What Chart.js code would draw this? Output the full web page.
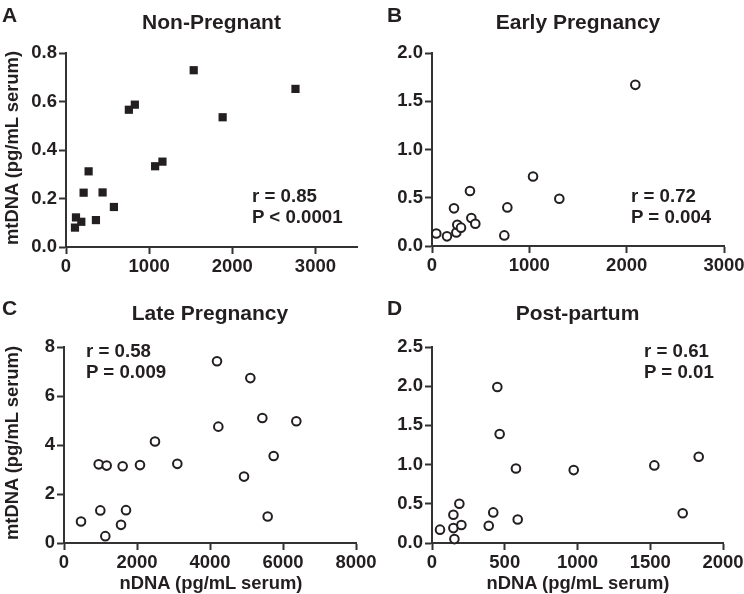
<!DOCTYPE html>
<html><head><meta charset="utf-8">
<script src="https://cdn.jsdelivr.net/npm/chart.js@4.4.1/dist/chart.umd.min.js"></script>
<style>
html,body{margin:0;padding:0;background:#fff;}
#wrap{position:relative;width:744px;height:594px;overflow:hidden;font-family:"Liberation Sans",Arial,Helvetica,sans-serif;font-weight:bold;color:#231f20;}
.cv{position:absolute;}
.t{position:absolute;white-space:nowrap;}
</style></head><body><div id="wrap">
<canvas id="cA" class="cv" width="372" height="297" style="left:0;top:0"></canvas>
<canvas id="cB" class="cv" width="372" height="297" style="left:372px;top:0"></canvas>
<canvas id="cC" class="cv" width="400" height="297" style="left:0;top:297px"></canvas>
<canvas id="cD" class="cv" width="372" height="297" style="left:372px;top:297px"></canvas>
</div>
<script>
// ---- data ----
const nonPregnantX = [108, 120, 184, 212, 272, 360, 440, 576, 756, 828, 1072, 1160, 1536, 1884, 2760];
const nonPregnantY = [0.080, 0.122, 0.104, 0.224, 0.312, 0.111, 0.225, 0.165, 0.566, 0.587, 0.333, 0.352, 0.729, 0.535, 0.652];

const earlyX = [44, 154, 226, 250, 260, 298, 390, 404, 445, 743, 774, 1038, 1308, 2089];
const earlyY = [0.13, 0.10, 0.39, 0.14, 0.22, 0.19, 0.57, 0.29, 0.23, 0.11, 0.40, 0.72, 0.49, 1.67];

const lateX = [466, 950, 995, 1132, 1169, 1562, 1607, 1699, 2082, 2493, 3105, 4192, 4228, 4932, 5105, 5434, 5580, 5744, 6365];
const lateY = [0.88, 3.21, 1.33, 0.28, 3.16, 0.74, 3.13, 1.34, 3.18, 4.14, 3.23, 7.42, 4.75, 2.71, 6.73, 5.10, 1.08, 3.55, 4.97];

const postX = [55, 147, 147, 154, 188, 202, 390, 421, 449, 465, 577, 589, 974, 1528, 1723, 1833];
const postY = [0.17, 0.36, 0.19, 0.05, 0.50, 0.23, 0.22, 0.39, 1.99, 1.39, 0.95, 0.30, 0.93, 0.99, 0.38, 1.10];

// ---- ticks ----
const ticksAx = [0, 1000, 2000, 3000];
const labelsAx = ['0', '1000', '2000', '3000'];
const ticksAy = [0, 0.2, 0.4, 0.6, 0.8];
const labelsAy = ['0.0', '0.2', '0.4', '0.6', '0.8'];

const ticksBx = [0, 1000, 2000, 3000];
const labelsBx = ['0', '1000', '2000', '3000'];
const ticksBy = [0, 0.5, 1.0, 1.5, 2.0];
const labelsBy = ['0.0', '0.5', '1.0', '1.5', '2.0'];

const ticksCx = [0, 2000, 4000, 6000, 8000];
const labelsCx = ['0', '2000', '4000', '6000', '8000'];
const ticksCy = [0, 2, 4, 6, 8];
const labelsCy = ['0', '2', '4', '6', '8'];

const ticksDx = [0, 500, 1000, 1500, 2000];
const labelsDx = ['0', '500', '1000', '1500', '2000'];
const ticksDy = [0, 0.5, 1.0, 1.5, 2.0, 2.5];
const labelsDy = ['0.0', '0.5', '1.0', '1.5', '2.0', '2.5'];

// ---- text ----
const panelLetters = ['A', 'B', 'C', 'D'];
const panelTitles = ['Non-Pregnant', 'Early Pregnancy', 'Late Pregnancy', 'Post-partum'];
const statR = ['r = 0.85', 'r = 0.72', 'r = 0.58', 'r = 0.61'];
const statP = ['P < 0.0001', 'P = 0.004', 'P = 0.009', 'P = 0.01'];
const yTitle = 'mtDNA (pg/mL serum)';
const xTitle = 'nDNA (pg/mL serum)';

const FONT = '"Liberation Sans", Arial, Helvetica, sans-serif';
const INK = '#231f20';
const AX = '#333333';
const TICK_SIZE = 18.5;

function panel(id, xs, ys, style, tx, lx, xMax, ty, ly, yMax, box) {
  const isRect = style === 'rect';
  const pts = xs.map((x, i) => ({x: x, y: ys[i]}));
  new Chart(document.getElementById(id), {
    type: 'scatter',
    data: {datasets: [{
      data: pts,
      pointStyle: style,
      pointRadius: isRect ? 5.8 : 4.3,
      pointBorderWidth: isRect ? 0 : 2,
      pointBackgroundColor: isRect ? INK : '#ffffff',
      pointBorderColor: INK,
      clip: false
    }]},
    options: {
      responsive: false, animation: false, events: [],
      layout: {padding: {top: box.top, right: box.right, bottom: 0, left: 0}},
      plugins: {legend: {display: false}, tooltip: {enabled: false}, title: {display: false}},
      scales: {
        x: {
          type: 'linear', min: 0, max: xMax,
          afterBuildTicks: s => { s.ticks = tx.map(v => ({value: v})); },
          afterFit: s => { s.height = box.bottom; s.paddingLeft = 0; s.paddingRight = 0; },
          grid: {display: true, drawOnChartArea: false, drawTicks: true, tickLength: 7, tickWidth: 2, tickColor: AX},
          border: {display: true, color: AX, width: 2},
          ticks: {font: {family: FONT, size: TICK_SIZE, weight: 'bold'}, color: INK, padding: 2, maxRotation: 0, autoSkip: false,
                  callback: (v, i) => lx[i]}
        },
        y: {
          type: 'linear', min: 0, max: yMax,
          afterBuildTicks: s => { s.ticks = ty.map(v => ({value: v})); },
          afterFit: s => { s.width = box.left; s.paddingTop = 0; s.paddingBottom = 0; },
          grid: {display: true, drawOnChartArea: false, drawTicks: true, tickLength: 7, tickWidth: 2, tickColor: AX},
          border: {display: true, color: AX, width: 2},
          ticks: {font: {family: FONT, size: TICK_SIZE, weight: 'bold'}, color: INK, padding: 2, autoSkip: false,
                  callback: (v, i) => ly[i]}
        }
      }
    }
  });
}

panel('cA', nonPregnantX, nonPregnantY, 'rect', ticksAx, labelsAx, 3500, ticksAy, labelsAy, 0.8, {left: 66, right: 15, top: 53, bottom: 50});
panel('cB', earlyX, earlyY, 'circle', ticksBx, labelsBx, 3000, ticksBy, labelsBy, 2.0, {left: 60, right: 20, top: 53, bottom: 51});
panel('cC', lateX, lateY, 'circle', ticksCx, labelsCx, 8000, ticksCy, labelsCy, 8, {left: 64, right: 44, top: 50, bottom: 51});
panel('cD', postX, postY, 'circle', ticksDx, labelsDx, 2000, ticksDy, labelsDy, 2.5, {left: 60, right: 21, top: 50, bottom: 51});

// ---- HTML text ----
const wrap = document.getElementById('wrap');
function txt(s, x, baseline, size, align, rotate) {
  const d = document.createElement('div');
  d.className = 't';
  d.textContent = s;
  d.style.fontSize = size + 'px';
  d.style.lineHeight = size + 'px';
  const base = (size - 1.117 * size) / 2 + 0.905 * size;
  if (rotate) {
    d.style.left = x + 'px';
    d.style.top = baseline + 'px';
    d.style.transform = 'translate(-50%,-50%) rotate(-90deg)';
  } else {
    d.style.top = (baseline - base) + 'px';
    d.style.left = x + 'px';
    if (align === 'center') d.style.transform = 'translateX(-50%)';
  }
  wrap.appendChild(d);
}
const letterPos = [[2, 22], [387, 22], [2, 315], [387, 315]];
const titlePos = [[211.5, 29], [578, 29], [210, 320], [577.5, 320]];
const statPos = [[252, 203], [631, 203], [86, 358], [644, 358]];
for (let i = 0; i < 4; i++) {
  txt(panelLetters[i], letterPos[i][0], letterPos[i][1], 21, 'left');
  txt(panelTitles[i], titlePos[i][0], titlePos[i][1], 21, 'center');
  txt(statR[i], statPos[i][0], statPos[i][1], 18.7, 'left');
  txt(statP[i], statPos[i][0], statPos[i][1] + 21, 18.7, 'left');
}
txt(yTitle, 12, 148, 18.4, 'center', true);
txt(yTitle, 12, 443, 18.4, 'center', true);
txt(xTitle, 211, 590, 18.4, 'center');
txt(xTitle, 578, 590, 18.4, 'center');
</script>
</body></html>
